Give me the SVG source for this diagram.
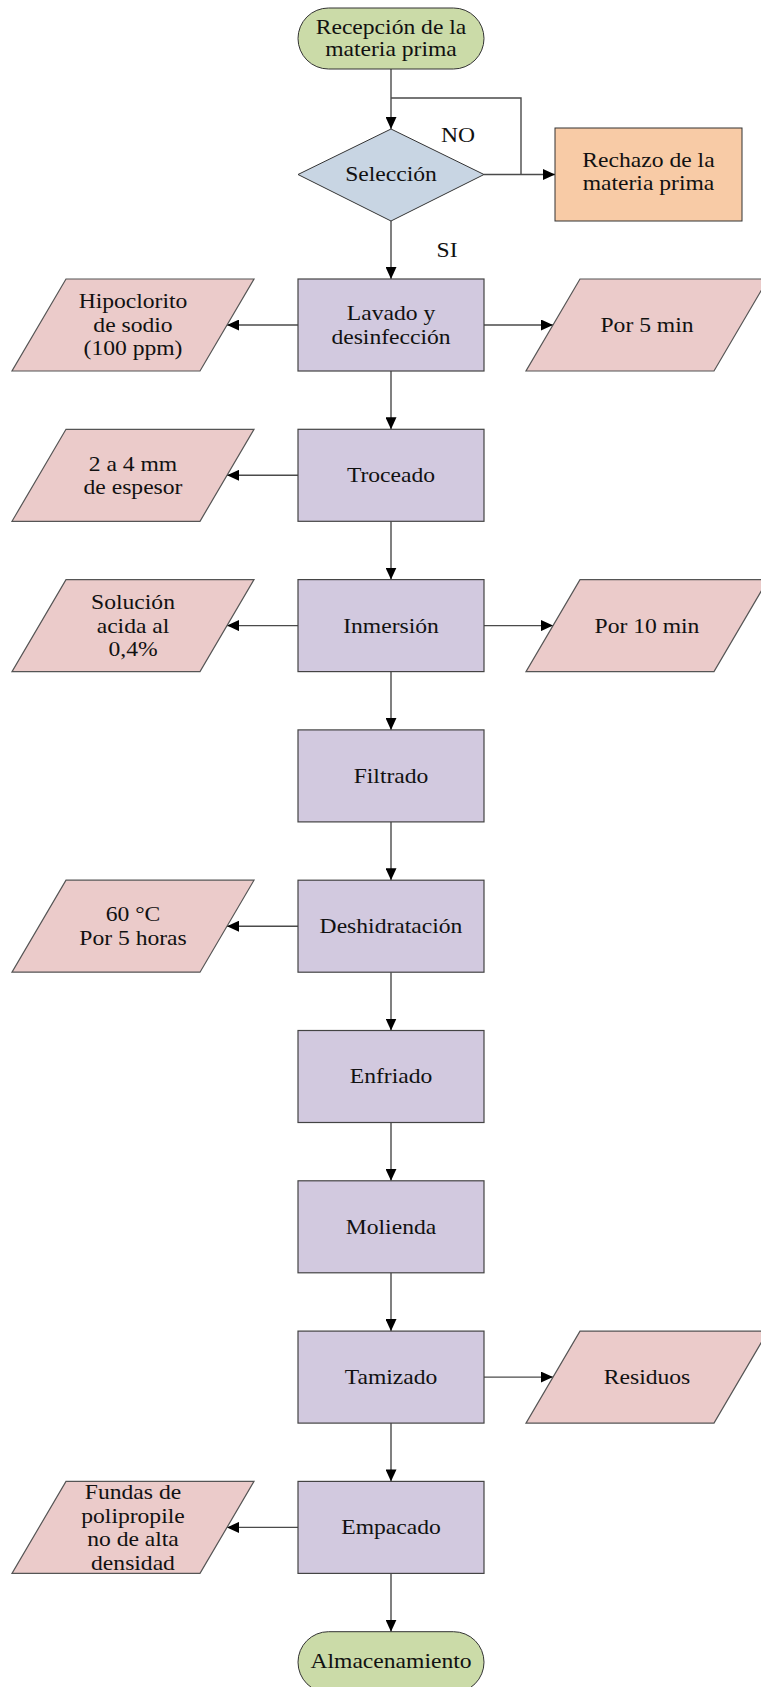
<svg xmlns="http://www.w3.org/2000/svg" width="761" height="1687" viewBox="0 0 761 1687">
<defs>
<marker id="ah" markerWidth="12" markerHeight="11" refX="12" refY="5.5" orient="auto" markerUnits="userSpaceOnUse">
<path d="M0,0 L12,5.5 L0,11 Z" fill="#000"/>
</marker>
<style>
.term{fill:#CBDBA8;stroke:#333;stroke-width:1}
.dec{fill:#C8D5E3;stroke:#333;stroke-width:1}
.rej{fill:#F8CBA6;stroke:#333;stroke-width:1}
.proc{fill:#D2C9DF;stroke:#444;stroke-width:1.2}
.io{fill:#EBCBCA;stroke:#555;stroke-width:1.2}
.c{fill:none;stroke:#4a4a4a;stroke-width:1.4}
.t{font-family:"Liberation Serif","Times New Roman",serif;font-size:20px;fill:#111;text-anchor:middle}
</style>
</defs>
<rect width="761" height="1687" fill="#fff"/>

<g id="connectors">
<path class="c" d="M391,69 V129" marker-end="url(#ah)"/>
<path class="c" d="M521,174.5 V98 H391"/>
<path class="c" d="M484,174.5 H555" marker-end="url(#ah)"/>
<path class="c" d="M391,221 V279" marker-end="url(#ah)"/>
<path class="c" d="M391,371 V429.3" marker-end="url(#ah)"/>
<path class="c" d="M391,521.3 V579.6" marker-end="url(#ah)"/>
<path class="c" d="M391,671.6 V729.9" marker-end="url(#ah)"/>
<path class="c" d="M391,821.9 V880.2" marker-end="url(#ah)"/>
<path class="c" d="M391,972.2 V1030.5" marker-end="url(#ah)"/>
<path class="c" d="M391,1122.5 V1180.8" marker-end="url(#ah)"/>
<path class="c" d="M391,1272.8 V1331.1" marker-end="url(#ah)"/>
<path class="c" d="M391,1423.1 V1481.4" marker-end="url(#ah)"/>
<path class="c" d="M391,1573.4 V1631.7" marker-end="url(#ah)"/>
<path class="c" d="M298,325 H227" marker-end="url(#ah)"/>
<path class="c" d="M484,325 H553" marker-end="url(#ah)"/>
<path class="c" d="M298,475.3 H227" marker-end="url(#ah)"/>
<path class="c" d="M298,625.6 H227" marker-end="url(#ah)"/>
<path class="c" d="M484,625.6 H553" marker-end="url(#ah)"/>
<path class="c" d="M298,926.2 H227" marker-end="url(#ah)"/>
<path class="c" d="M484,1377.1 H553" marker-end="url(#ah)"/>
<path class="c" d="M298,1527.4 H227" marker-end="url(#ah)"/>
</g>

<g id="labels">
<text class="t" transform="translate(458,0) scale(1.18,1)" x="0" y="142">NO</text>
<text class="t" transform="translate(447,0) scale(1.18,1)" x="0" y="257">SI</text>
</g>

<g id="start">
<rect class="term" x="298" y="8" width="186" height="61" rx="30.5"/>
<text class="t" transform="translate(391,0) scale(1.18,1)"><tspan x="0" y="34.5">Recepción de la</tspan><tspan x="0" y="56.5">materia prima</tspan></text>
</g>

<g id="seleccion">
<polygon class="dec" points="391,129 484,174.5 391,221 298,174.5"/>
<text class="t" transform="translate(391,0) scale(1.18,1)" x="0" y="181.5">Selección</text>
</g>

<g id="rechazo">
<rect class="rej" x="555" y="128" width="187" height="93"/>
<text class="t" transform="translate(648.5,0) scale(1.18,1)"><tspan x="0" y="167">Rechazo de la</tspan><tspan x="0" y="190.5">materia prima</tspan></text>
</g>

<g id="lavado">
<rect class="proc" x="298" y="279" width="186" height="92"/>
<text class="t" transform="translate(391,0) scale(1.18,1)"><tspan x="0" y="320.3">Lavado y</tspan><tspan x="0" y="343.8">desinfección</tspan></text>
</g>
<g id="hipoclorito">
<polygon class="io" points="66,279 254,279 200,371 12,371"/>
<text class="t" transform="translate(133,0) scale(1.18,1)"><tspan x="0" y="308.5">Hipoclorito</tspan><tspan x="0" y="332">de sodio</tspan><tspan x="0" y="355.5">(100 ppm)</tspan></text>
</g>
<g id="por5min">
<polygon class="io" points="580,279 768,279 714,371 526,371"/>
<text class="t" transform="translate(647,0) scale(1.18,1)" x="0" y="332">Por 5 min</text>
</g>

<g id="troceado">
<rect class="proc" x="298" y="429.3" width="186" height="92"/>
<text class="t" transform="translate(391,0) scale(1.18,1)" x="0" y="482.3">Troceado</text>
</g>
<g id="espesor">
<polygon class="io" points="66,429.3 254,429.3 200,521.3 12,521.3"/>
<text class="t" transform="translate(133,0) scale(1.18,1)"><tspan x="0" y="470.6">2 a 4 mm</tspan><tspan x="0" y="494.1">de espesor</tspan></text>
</g>

<g id="inmersion">
<rect class="proc" x="298" y="579.6" width="186" height="92"/>
<text class="t" transform="translate(391,0) scale(1.18,1)" x="0" y="632.6">Inmersión</text>
</g>
<g id="solucion">
<polygon class="io" points="66,579.6 254,579.6 200,671.6 12,671.6"/>
<text class="t" transform="translate(133,0) scale(1.18,1)"><tspan x="0" y="609.1">Solución</tspan><tspan x="0" y="632.6">acida al</tspan><tspan x="0" y="656.1">0,4%</tspan></text>
</g>
<g id="por10min">
<polygon class="io" points="580,579.6 768,579.6 714,671.6 526,671.6"/>
<text class="t" transform="translate(647,0) scale(1.18,1)" x="0" y="632.6">Por 10 min</text>
</g>

<g id="filtrado">
<rect class="proc" x="298" y="729.9" width="186" height="92"/>
<text class="t" transform="translate(391,0) scale(1.18,1)" x="0" y="782.9">Filtrado</text>
</g>

<g id="deshidratacion">
<rect class="proc" x="298" y="880.2" width="186" height="92"/>
<text class="t" transform="translate(391,0) scale(1.18,1)" x="0" y="933.2">Deshidratación</text>
</g>
<g id="temp">
<polygon class="io" points="66,880.2 254,880.2 200,972.2 12,972.2"/>
<text class="t" transform="translate(133,0) scale(1.18,1)"><tspan x="0" y="921.5">60 °C</tspan><tspan x="0" y="945">Por 5 horas</tspan></text>
</g>

<g id="enfriado">
<rect class="proc" x="298" y="1030.5" width="186" height="92"/>
<text class="t" transform="translate(391,0) scale(1.18,1)" x="0" y="1083.5">Enfriado</text>
</g>

<g id="molienda">
<rect class="proc" x="298" y="1180.8" width="186" height="92"/>
<text class="t" transform="translate(391,0) scale(1.18,1)" x="0" y="1233.8">Molienda</text>
</g>

<g id="tamizado">
<rect class="proc" x="298" y="1331.1" width="186" height="92"/>
<text class="t" transform="translate(391,0) scale(1.18,1)" x="0" y="1384.1">Tamizado</text>
</g>
<g id="residuos">
<polygon class="io" points="580,1331.1 768,1331.1 714,1423.1 526,1423.1"/>
<text class="t" transform="translate(647,0) scale(1.18,1)" x="0" y="1384.1">Residuos</text>
</g>

<g id="empacado">
<rect class="proc" x="298" y="1481.4" width="186" height="92"/>
<text class="t" transform="translate(391,0) scale(1.18,1)" x="0" y="1534.4">Empacado</text>
</g>
<g id="fundas">
<polygon class="io" points="66,1481.4 254,1481.4 200,1573.4 12,1573.4"/>
<text class="t" transform="translate(133,0) scale(1.18,1)"><tspan x="0" y="1499.1">Fundas de</tspan><tspan x="0" y="1522.6">polipropile</tspan><tspan x="0" y="1546.1">no de alta</tspan><tspan x="0" y="1569.6">densidad</tspan></text>
</g>

<g id="almacenamiento">
<rect class="term" x="298" y="1631.7" width="186" height="61" rx="30.5"/>
<text class="t" transform="translate(391,0) scale(1.18,1)" x="0" y="1668">Almacenamiento</text>
</g>
</svg>
